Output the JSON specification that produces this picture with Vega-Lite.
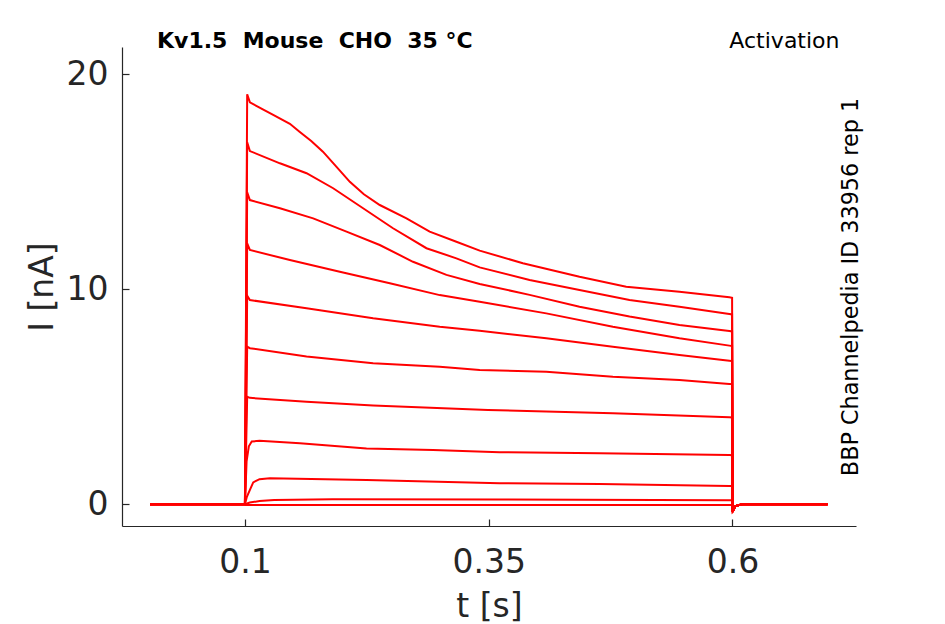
{
  "$schema": "https://vega.github.io/schema/vega-lite/v6.json",
  "width": 734,
  "height": 479,
  "autosize": {"type": "none"},
  "padding": {"left": 122, "top": 47, "right": 89, "bottom": 98},
  "background": "white",
  "title": {
    "text": "Kv1.5 \u00a0Mouse \u00a0CHO \u00a035 °C",
    "anchor": "start",
    "frame": "group",
    "dx": 35,
    "offset": -41,
    "baseline": "alphabetic",
    "font": "DejaVu Sans",
    "fontSize": 22,
    "fontWeight": "bold",
    "color": "#000000"
  },
  "datasets": {
    "traces": [
      {"k": 1, "t": 0.0026, "I": 0}, {"k": 1, "t": 0.1, "I": 0}, {"k": 1, "t": 0.1023, "I": 19.07}, {"k": 1, "t": 0.1051, "I": 18.70}, {"k": 1, "t": 0.115, "I": 18.45}, {"k": 1, "t": 0.129, "I": 18.11}, {"k": 1, "t": 0.1461, "I": 17.7}, {"k": 1, "t": 0.156, "I": 17.33}, {"k": 1, "t": 0.168, "I": 16.9}, {"k": 1, "t": 0.18, "I": 16.4}, {"k": 1, "t": 0.1935, "I": 15.72}, {"k": 1, "t": 0.2076, "I": 15.0}, {"k": 1, "t": 0.222, "I": 14.42}, {"k": 1, "t": 0.2383, "I": 13.92}, {"k": 1, "t": 0.2657, "I": 13.3}, {"k": 1, "t": 0.2895, "I": 12.68}, {"k": 1, "t": 0.3169, "I": 12.21}, {"k": 1, "t": 0.3408, "I": 11.8}, {"k": 1, "t": 0.3851, "I": 11.21}, {"k": 1, "t": 0.4432, "I": 10.58}, {"k": 1, "t": 0.4911, "I": 10.12}, {"k": 1, "t": 0.5457, "I": 9.89}, {"k": 1, "t": 0.5969, "I": 9.63}, {"k": 1, "t": 0.5997, "I": 9.6}, {"k": 1, "t": 0.6003, "I": -0.35}, {"k": 1, "t": 0.603, "I": -0.08}, {"k": 1, "t": 0.61, "I": 0}, {"k": 1, "t": 0.6977, "I": 0},
      {"k": 2, "t": 0.0026, "I": 0}, {"k": 2, "t": 0.1, "I": 0}, {"k": 2, "t": 0.1023, "I": 16.84}, {"k": 2, "t": 0.1051, "I": 16.43}, {"k": 2, "t": 0.1359, "I": 15.86}, {"k": 2, "t": 0.1632, "I": 15.4}, {"k": 2, "t": 0.1905, "I": 14.7}, {"k": 2, "t": 0.2212, "I": 13.77}, {"k": 2, "t": 0.2519, "I": 12.84}, {"k": 2, "t": 0.2862, "I": 11.91}, {"k": 2, "t": 0.3169, "I": 11.44}, {"k": 2, "t": 0.3408, "I": 11.02}, {"k": 2, "t": 0.392, "I": 10.43}, {"k": 2, "t": 0.4432, "I": 9.97}, {"k": 2, "t": 0.4945, "I": 9.5}, {"k": 2, "t": 0.5457, "I": 9.19}, {"k": 2, "t": 0.5969, "I": 8.85}, {"k": 2, "t": 0.5997, "I": 8.83}, {"k": 2, "t": 0.6003, "I": -0.35}, {"k": 2, "t": 0.603, "I": -0.08}, {"k": 2, "t": 0.61, "I": 0}, {"k": 2, "t": 0.6977, "I": 0},
      {"k": 3, "t": 0.0026, "I": 0}, {"k": 3, "t": 0.1, "I": 0}, {"k": 3, "t": 0.1023, "I": 14.51}, {"k": 3, "t": 0.1051, "I": 14.15}, {"k": 3, "t": 0.1359, "I": 13.77}, {"k": 3, "t": 0.17, "I": 13.3}, {"k": 3, "t": 0.2042, "I": 12.68}, {"k": 3, "t": 0.2383, "I": 12.06}, {"k": 3, "t": 0.2724, "I": 11.28}, {"k": 3, "t": 0.3067, "I": 10.67}, {"k": 3, "t": 0.3408, "I": 10.25}, {"k": 3, "t": 0.392, "I": 9.74}, {"k": 3, "t": 0.4432, "I": 9.19}, {"k": 3, "t": 0.4945, "I": 8.73}, {"k": 3, "t": 0.5457, "I": 8.34}, {"k": 3, "t": 0.5969, "I": 8.06}, {"k": 3, "t": 0.5997, "I": 8.04}, {"k": 3, "t": 0.6003, "I": -0.35}, {"k": 3, "t": 0.603, "I": -0.08}, {"k": 3, "t": 0.61, "I": 0}, {"k": 3, "t": 0.6977, "I": 0},
      {"k": 4, "t": 0.0026, "I": 0}, {"k": 4, "t": 0.1, "I": 0}, {"k": 4, "t": 0.1023, "I": 12.14}, {"k": 4, "t": 0.1051, "I": 11.83}, {"k": 4, "t": 0.1461, "I": 11.36}, {"k": 4, "t": 0.1973, "I": 10.82}, {"k": 4, "t": 0.2486, "I": 10.28}, {"k": 4, "t": 0.2998, "I": 9.73}, {"k": 4, "t": 0.3408, "I": 9.42}, {"k": 4, "t": 0.4091, "I": 8.88}, {"k": 4, "t": 0.4774, "I": 8.26}, {"k": 4, "t": 0.5457, "I": 7.72}, {"k": 4, "t": 0.5969, "I": 7.38}, {"k": 4, "t": 0.5997, "I": 7.36}, {"k": 4, "t": 0.6003, "I": -0.35}, {"k": 4, "t": 0.603, "I": -0.08}, {"k": 4, "t": 0.61, "I": 0}, {"k": 4, "t": 0.6977, "I": 0},
      {"k": 5, "t": 0.0026, "I": 0}, {"k": 5, "t": 0.1, "I": 0}, {"k": 5, "t": 0.1023, "I": 9.7}, {"k": 5, "t": 0.1051, "I": 9.5}, {"k": 5, "t": 0.1632, "I": 9.12}, {"k": 5, "t": 0.2315, "I": 8.65}, {"k": 5, "t": 0.2998, "I": 8.26}, {"k": 5, "t": 0.3408, "I": 8.07}, {"k": 5, "t": 0.4091, "I": 7.72}, {"k": 5, "t": 0.4774, "I": 7.33}, {"k": 5, "t": 0.5457, "I": 6.94}, {"k": 5, "t": 0.5969, "I": 6.68}, {"k": 5, "t": 0.5997, "I": 6.66}, {"k": 5, "t": 0.6003, "I": -0.35}, {"k": 5, "t": 0.603, "I": -0.08}, {"k": 5, "t": 0.61, "I": 0}, {"k": 5, "t": 0.6977, "I": 0},
      {"k": 6, "t": 0.0026, "I": 0}, {"k": 6, "t": 0.1, "I": 0}, {"k": 6, "t": 0.1023, "I": 7.33}, {"k": 6, "t": 0.1051, "I": 7.26}, {"k": 6, "t": 0.1632, "I": 6.87}, {"k": 6, "t": 0.2315, "I": 6.56}, {"k": 6, "t": 0.2998, "I": 6.4}, {"k": 6, "t": 0.3408, "I": 6.25}, {"k": 6, "t": 0.4091, "I": 6.17}, {"k": 6, "t": 0.4774, "I": 5.93}, {"k": 6, "t": 0.5457, "I": 5.78}, {"k": 6, "t": 0.5969, "I": 5.6}, {"k": 6, "t": 0.5997, "I": 5.59}, {"k": 6, "t": 0.6003, "I": -0.35}, {"k": 6, "t": 0.603, "I": -0.08}, {"k": 6, "t": 0.61, "I": 0}, {"k": 6, "t": 0.6977, "I": 0},
      {"k": 7, "t": 0.0026, "I": 0}, {"k": 7, "t": 0.1, "I": 0}, {"k": 7, "t": 0.1023, "I": 5.0}, {"k": 7, "t": 0.1051, "I": 4.95}, {"k": 7, "t": 0.1632, "I": 4.77}, {"k": 7, "t": 0.2315, "I": 4.59}, {"k": 7, "t": 0.3493, "I": 4.39}, {"k": 7, "t": 0.4774, "I": 4.23}, {"k": 7, "t": 0.5969, "I": 4.05}, {"k": 7, "t": 0.5997, "I": 4.04}, {"k": 7, "t": 0.6003, "I": -0.35}, {"k": 7, "t": 0.603, "I": -0.08}, {"k": 7, "t": 0.61, "I": 0}, {"k": 7, "t": 0.6977, "I": 0},
      {"k": 8, "t": 0.0026, "I": 0}, {"k": 8, "t": 0.1, "I": 0}, {"k": 8, "t": 0.1017, "I": 2.0}, {"k": 8, "t": 0.104, "I": 2.7}, {"k": 8, "t": 0.107, "I": 2.92}, {"k": 8, "t": 0.115, "I": 2.95}, {"k": 8, "t": 0.1564, "I": 2.84}, {"k": 8, "t": 0.2247, "I": 2.6}, {"k": 8, "t": 0.2929, "I": 2.53}, {"k": 8, "t": 0.3613, "I": 2.42}, {"k": 8, "t": 0.4637, "I": 2.37}, {"k": 8, "t": 0.5969, "I": 2.29}, {"k": 8, "t": 0.5997, "I": 2.28}, {"k": 8, "t": 0.6003, "I": -0.35}, {"k": 8, "t": 0.603, "I": -0.08}, {"k": 8, "t": 0.61, "I": 0}, {"k": 8, "t": 0.6977, "I": 0},
      {"k": 9, "t": 0.0026, "I": 0}, {"k": 9, "t": 0.1, "I": 0}, {"k": 9, "t": 0.102, "I": 0.35}, {"k": 9, "t": 0.1051, "I": 0.67}, {"k": 9, "t": 0.1085, "I": 1.02}, {"k": 9, "t": 0.115, "I": 1.17}, {"k": 9, "t": 0.1256, "I": 1.21}, {"k": 9, "t": 0.2247, "I": 1.13}, {"k": 9, "t": 0.3613, "I": 0.98}, {"k": 9, "t": 0.4637, "I": 0.94}, {"k": 9, "t": 0.5969, "I": 0.85}, {"k": 9, "t": 0.5997, "I": 0.85}, {"k": 9, "t": 0.6003, "I": -0.3}, {"k": 9, "t": 0.603, "I": -0.08}, {"k": 9, "t": 0.61, "I": 0}, {"k": 9, "t": 0.6977, "I": 0},
      {"k": 10, "t": 0.0026, "I": 0}, {"k": 10, "t": 0.1, "I": 0}, {"k": 10, "t": 0.105, "I": 0.08}, {"k": 10, "t": 0.115, "I": 0.15}, {"k": 10, "t": 0.13, "I": 0.2}, {"k": 10, "t": 0.19, "I": 0.24}, {"k": 10, "t": 0.36, "I": 0.22}, {"k": 10, "t": 0.5969, "I": 0.19}, {"k": 10, "t": 0.5997, "I": 0.19}, {"k": 10, "t": 0.6003, "I": -0.3}, {"k": 10, "t": 0.603, "I": -0.08}, {"k": 10, "t": 0.61, "I": 0}, {"k": 10, "t": 0.6977, "I": 0},
      {"k": 11, "t": 0.0026, "I": 0}, {"k": 11, "t": 0.1, "I": 0}, {"k": 11, "t": 0.1005, "I": -0.03}, {"k": 11, "t": 0.5997, "I": -0.03}, {"k": 11, "t": 0.6003, "I": -0.3}, {"k": 11, "t": 0.603, "I": -0.08}, {"k": 11, "t": 0.61, "I": 0}, {"k": 11, "t": 0.6977, "I": 0}
    ]
  },
  "data": {"name": "traces"},
  "layer": [
    {
      "mark": {"type": "line", "color": "#ff0000", "strokeWidth": 2},
      "encoding": {
        "x": {
          "field": "t", "type": "quantitative",
          "scale": {"domain": [-0.0261, 0.7268], "nice": false, "zero": false},
          "axis": {
            "orient": "bottom", "values": [0.1, 0.35, 0.6], "labelExpr": "'' + datum.value",
            "labelPadding": 27, "labelFlush": false, "labelOverlap": false,
            "title": "t [s]", "titleY": 90, "titleBaseline": "alphabetic"
          }
        },
        "y": {
          "field": "I", "type": "quantitative",
          "scale": {"domain": [-1.01, 21.27], "nice": false, "zero": false},
          "axis": {
            "orient": "left", "values": [0, 10, 20], "labelExpr": "'' + datum.value",
            "labelPadding": 21, "labelFlush": false, "labelOverlap": false,
            "title": "I [nA]", "titleX": -70, "titleY": 239.5, "titleAngle": 270,
            "titleAlign": "center", "titleBaseline": "alphabetic"
          }
        },
        "detail": {"field": "k", "type": "nominal"}
      }
    },
    {
      "transform": [{"filter": "false"}],
      "mark": {"type": "point", "opacity": 0},
      "encoding": {
        "x": {
          "field": "t", "type": "quantitative",
          "axis": {
            "orient": "top", "domain": false, "ticks": false, "labels": false,
            "title": "Activation", "titleFontSize": 22, "titleColor": "#000000",
            "titleX": 717, "titleY": 0, "titleAlign": "right", "titleBaseline": "alphabetic", "titleAngle": 0
          }
        },
        "y": {
          "field": "I", "type": "quantitative",
          "axis": {
            "orient": "right", "domain": false, "ticks": false, "labels": false,
            "title": "BBP Channelpedia ID 33956 rep 1", "titleFontSize": 22.3, "titleColor": "#000000",
            "titleX": 1.5, "titleY": 239.5, "titleAngle": 270, "titleAlign": "center", "titleBaseline": "alphabetic"
          }
        }
      }
    }
  ],
  "resolve": {"axis": {"x": "independent", "y": "independent"}},
  "config": {
    "view": {"stroke": null},
    "font": "DejaVu Sans",
    "axis": {
      "grid": false,
      "domainColor": "#262626", "domainWidth": 1.2,
      "tickColor": "#262626", "tickWidth": 1.2, "tickSize": -7,
      "labelColor": "#262626", "labelFont": "DejaVu Sans", "labelFontSize": 33,
      "titleFont": "DejaVu Sans", "titleFontSize": 33, "titleFontWeight": "normal", "titleColor": "#262626"
    }
  }
}
